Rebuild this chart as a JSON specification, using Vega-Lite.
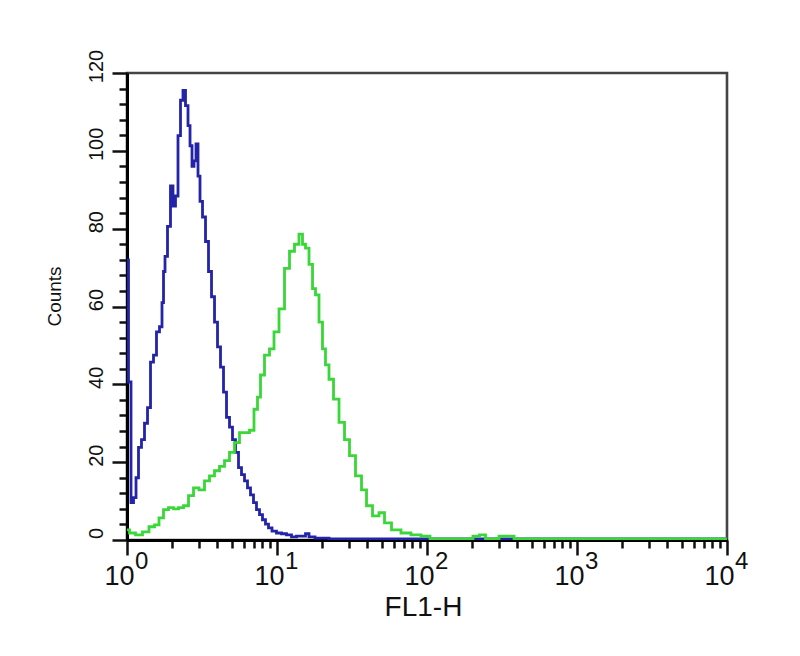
{
  "$schema": "https://vega.github.io/schema/vega-lite/v6.json",
  "width": 600,
  "height": 467,
  "autosize": {"type": "none"},
  "padding": {"left": 127, "top": 73, "right": 73, "bottom": 116},
  "background": "white",
  "datasets": {
    "hist": [
      {"fl": 1, "count": 72, "series": "A"},
      {"fl": 1.047, "count": 40.6, "series": "A"},
      {"fl": 1.08, "count": 9.6, "series": "A"},
      {"fl": 1.131, "count": 10.9, "series": "A"},
      {"fl": 1.166, "count": 16, "series": "A"},
      {"fl": 1.221, "count": 23.8, "series": "A"},
      {"fl": 1.278, "count": 25.8, "series": "A"},
      {"fl": 1.339, "count": 30, "series": "A"},
      {"fl": 1.402, "count": 34, "series": "A"},
      {"fl": 1.468, "count": 45.7, "series": "A"},
      {"fl": 1.537, "count": 47.5, "series": "A"},
      {"fl": 1.609, "count": 53.5, "series": "A"},
      {"fl": 1.685, "count": 54.8, "series": "A"},
      {"fl": 1.738, "count": 61, "series": "A"},
      {"fl": 1.765, "count": 69, "series": "A"},
      {"fl": 1.82, "count": 72.9, "series": "A"},
      {"fl": 1.905, "count": 80.6, "series": "A"},
      {"fl": 1.995, "count": 91, "series": "A"},
      {"fl": 2.057, "count": 85.8, "series": "A"},
      {"fl": 2.154, "count": 88.4, "series": "A"},
      {"fl": 2.222, "count": 103.9, "series": "A"},
      {"fl": 2.326, "count": 113, "series": "A"},
      {"fl": 2.399, "count": 115.5, "series": "A"},
      {"fl": 2.512, "count": 111.6, "series": "A"},
      {"fl": 2.591, "count": 106.5, "series": "A"},
      {"fl": 2.672, "count": 101.3, "series": "A"},
      {"fl": 2.754, "count": 96, "series": "A"},
      {"fl": 2.84, "count": 97.4, "series": "A"},
      {"fl": 2.929, "count": 101.8, "series": "A"},
      {"fl": 3.02, "count": 93.5, "series": "A"},
      {"fl": 3.114, "count": 87, "series": "A"},
      {"fl": 3.262, "count": 83, "series": "A"},
      {"fl": 3.415, "count": 76.7, "series": "A"},
      {"fl": 3.576, "count": 69, "series": "A"},
      {"fl": 3.745, "count": 62.5, "series": "A"},
      {"fl": 3.921, "count": 56, "series": "A"},
      {"fl": 4.106, "count": 49.6, "series": "A"},
      {"fl": 4.299, "count": 44.4, "series": "A"},
      {"fl": 4.502, "count": 38, "series": "A"},
      {"fl": 4.714, "count": 31.5, "series": "A"},
      {"fl": 4.936, "count": 29, "series": "A"},
      {"fl": 5.168, "count": 25.8, "series": "A"},
      {"fl": 5.412, "count": 22.5, "series": "A"},
      {"fl": 5.667, "count": 18.6, "series": "A"},
      {"fl": 5.934, "count": 16.8, "series": "A"},
      {"fl": 6.213, "count": 15.2, "series": "A"},
      {"fl": 6.506, "count": 13.4, "series": "A"},
      {"fl": 6.813, "count": 11.6, "series": "A"},
      {"fl": 7.134, "count": 9.6, "series": "A"},
      {"fl": 7.47, "count": 7.8, "series": "A"},
      {"fl": 7.822, "count": 6.5, "series": "A"},
      {"fl": 8.19, "count": 5.2, "series": "A"},
      {"fl": 8.577, "count": 4.1, "series": "A"},
      {"fl": 8.981, "count": 3.1, "series": "A"},
      {"fl": 9.55, "count": 2.3, "series": "A"},
      {"fl": 10.31, "count": 1.8, "series": "A"},
      {"fl": 11.14, "count": 1.6, "series": "A"},
      {"fl": 12.02, "count": 1.3, "series": "A"},
      {"fl": 12.98, "count": 0.8, "series": "A"},
      {"fl": 14.02, "count": 1, "series": "A"},
      {"fl": 15.14, "count": 1, "series": "A"},
      {"fl": 15.85, "count": 1.6, "series": "A"},
      {"fl": 16.86, "count": 0.8, "series": "A"},
      {"fl": 19.05, "count": 0.5, "series": "A"},
      {"fl": 25.91, "count": 0.3, "series": "A"},
      {"fl": 65, "count": 0.3, "series": "A"},
      {"fl": 300, "count": 0.3, "series": "A"},
      {"fl": 10000, "count": 0.3, "series": "A"},

      {"fl": 1, "count": 2.6, "series": "B"},
      {"fl": 1.08, "count": 1.8, "series": "B"},
      {"fl": 1.202, "count": 1.3, "series": "B"},
      {"fl": 1.339, "count": 2.1, "series": "B"},
      {"fl": 1.468, "count": 3.4, "series": "B"},
      {"fl": 1.585, "count": 3.9, "series": "B"},
      {"fl": 1.685, "count": 5.7, "series": "B"},
      {"fl": 1.82, "count": 7.8, "series": "B"},
      {"fl": 1.965, "count": 8.3, "series": "B"},
      {"fl": 2.122, "count": 8, "series": "B"},
      {"fl": 2.291, "count": 8.3, "series": "B"},
      {"fl": 2.474, "count": 8.8, "series": "B"},
      {"fl": 2.672, "count": 11.4, "series": "B"},
      {"fl": 2.884, "count": 13.4, "series": "B"},
      {"fl": 3.162, "count": 12.9, "series": "B"},
      {"fl": 3.415, "count": 15.2, "series": "B"},
      {"fl": 3.687, "count": 16.5, "series": "B"},
      {"fl": 3.981, "count": 17.8, "series": "B"},
      {"fl": 4.299, "count": 18.9, "series": "B"},
      {"fl": 4.642, "count": 20.4, "series": "B"},
      {"fl": 5.012, "count": 22.5, "series": "B"},
      {"fl": 5.412, "count": 25, "series": "B"},
      {"fl": 5.843, "count": 27.6, "series": "B"},
      {"fl": 6.31, "count": 27.6, "series": "B"},
      {"fl": 6.813, "count": 28.2, "series": "B"},
      {"fl": 7.244, "count": 33.6, "series": "B"},
      {"fl": 7.586, "count": 36.7, "series": "B"},
      {"fl": 7.943, "count": 42.4, "series": "B"},
      {"fl": 8.577, "count": 47.5, "series": "B"},
      {"fl": 9.261, "count": 49.1, "series": "B"},
      {"fl": 9.847, "count": 53.5, "series": "B"},
      {"fl": 10.8, "count": 59.4, "series": "B"},
      {"fl": 11.66, "count": 69.8, "series": "B"},
      {"fl": 12.59, "count": 74.2, "series": "B"},
      {"fl": 13.59, "count": 76, "series": "B"},
      {"fl": 14.45, "count": 78.6, "series": "B"},
      {"fl": 15.14, "count": 76, "series": "B"},
      {"fl": 15.85, "count": 75, "series": "B"},
      {"fl": 16.86, "count": 70.8, "series": "B"},
      {"fl": 17.65, "count": 64.6, "series": "B"},
      {"fl": 18.48, "count": 63, "series": "B"},
      {"fl": 19.65, "count": 56, "series": "B"},
      {"fl": 20.57, "count": 49.1, "series": "B"},
      {"fl": 21.54, "count": 45, "series": "B"},
      {"fl": 22.91, "count": 41.3, "series": "B"},
      {"fl": 24.74, "count": 36.2, "series": "B"},
      {"fl": 27.13, "count": 30.2, "series": "B"},
      {"fl": 29.29, "count": 25.8, "series": "B"},
      {"fl": 31.62, "count": 21.7, "series": "B"},
      {"fl": 35.22, "count": 16.5, "series": "B"},
      {"fl": 38.02, "count": 12.9, "series": "B"},
      {"fl": 41.06, "count": 8.8, "series": "B"},
      {"fl": 45.71, "count": 6.2, "series": "B"},
      {"fl": 50.12, "count": 7, "series": "B"},
      {"fl": 54.12, "count": 4.4, "series": "B"},
      {"fl": 62.13, "count": 2.6, "series": "B"},
      {"fl": 72.44, "count": 1.8, "series": "B"},
      {"fl": 84.45, "count": 1.3, "series": "B"},
      {"fl": 98.47, "count": 1, "series": "B"},
      {"fl": 111.4, "count": 0.3, "series": "B"},
      {"fl": 140.2, "count": 0.3, "series": "B"},
      {"fl": 190.5, "count": 0.3, "series": "B"},
      {"fl": 215.4, "count": 1, "series": "B"},
      {"fl": 232.6, "count": 1.3, "series": "B"},
      {"fl": 259.1, "count": 0.3, "series": "B"},
      {"fl": 352.2, "count": 1, "series": "B"},
      {"fl": 410.6, "count": 0.3, "series": "B"},
      {"fl": 1402, "count": 0.3, "series": "B"},
      {"fl": 6506, "count": 0.3, "series": "B"},
      {"fl": 10000, "count": 0.3, "series": "B"}
    ],
    "exps": [
      {"fl": 1, "e": "0"},
      {"fl": 10, "e": "1"},
      {"fl": 100, "e": "2"},
      {"fl": 1000, "e": "3"},
      {"fl": 10000, "e": "4"}
    ]
  },
  "layer": [
    {
      "data": {"name": "hist"},
      "mark": {"type": "line", "interpolate": "step", "strokeWidth": 2.8, "clip": true},
      "encoding": {
        "x": {
          "field": "fl", "type": "quantitative",
          "scale": {"type": "log", "domain": [1, 10000], "nice": false},
          "axis": {
            "title": "FL1-H",
            "values": [1,2,3,4,5,6,7,8,9,10,20,30,40,50,60,70,80,90,100,200,300,400,500,600,700,800,900,1000,2000,3000,4000,5000,6000,7000,8000,9000,10000],
            "tickCount": 200,
            "labelExpr": "indexof([1,10,100,1000,10000], datum.value) >= 0 ? '10' : ''",
            "labelOverlap": false,
            "labelFlush": false,
            "labelBound": false,
            "labelFontSize": 27,
            "labelBaseline": "top",
            "labelPadding": 8,
            "labelOffset": -8,
            "tickSize": {"condition": {"test": "indexof([1,10,100,1000,10000], datum.value) >= 0", "value": 15}, "value": 8},
            "grid": false,
            "titleFontSize": 28,
            "titleFontWeight": "normal",
            "titleX": 296,
            "titleY": 67,
            "titleBaseline": "middle",
            "titleAlign": "center"
          }
        },
        "y": {
          "field": "count", "type": "quantitative",
          "scale": {"domain": [0, 120], "nice": false},
          "axis": {
            "title": "Counts",
            "values": [0,4,8,12,16,20,24,28,32,36,40,44,48,52,56,60,64,68,72,76,80,84,88,92,96,100,104,108,112,116,120],
            "tickCount": 200,
            "format": "d",
            "labelOverlap": false,
            "labelFlush": false,
            "labelBound": false,
            "labelAngle": -90,
            "labelAlign": "center",
            "labelBaseline": "alphabetic",
            "labelFontSize": {"condition": {"test": "datum.value % 20 == 0", "value": 20}, "value": 0},
            "labelOpacity": {"condition": {"test": "datum.value % 20 == 0", "value": 1}, "value": 0},
            "labelPadding": 10,
            "labelOffset": -7,
            "tickSize": {"condition": {"test": "datum.value % 20 == 0", "value": 15}, "value": 8},
            "grid": false,
            "titleFontSize": 19,
            "titleFontWeight": "normal",
            "titleX": -73,
            "titleY": 223,
            "titleBaseline": "middle",
            "titleAlign": "center",
            "titleAngle": -90
          }
        },
        "color": {
          "field": "series", "type": "nominal",
          "scale": {"domain": ["A", "B"], "range": ["#2424a8", "#3ad63a"]},
          "legend": null
        }
      }
    },
    {
      "data": {"name": "exps"},
      "mark": {"type": "text", "align": "left", "baseline": "top", "dx": 8, "dy": 10, "fontSize": 24, "font": "Liberation Sans", "color": "#111"},
      "encoding": {
        "x": {"field": "fl", "type": "quantitative"},
        "y": {"datum": 0},
        "text": {"field": "e"}
      }
    }
  ],
  "config": {
    "font": "Liberation Sans",
    "view": {"stroke": "#444444", "strokeWidth": 2.6},
    "axis": {
      "domainColor": "#000000",
      "domainWidth": 3,
      "tickColor": "#111111",
      "tickWidth": 2.5,
      "labelColor": "#111111",
      "titleColor": "#111111",
      "labelFont": "Liberation Sans",
      "titleFont": "Liberation Sans"
    }
  }
}
